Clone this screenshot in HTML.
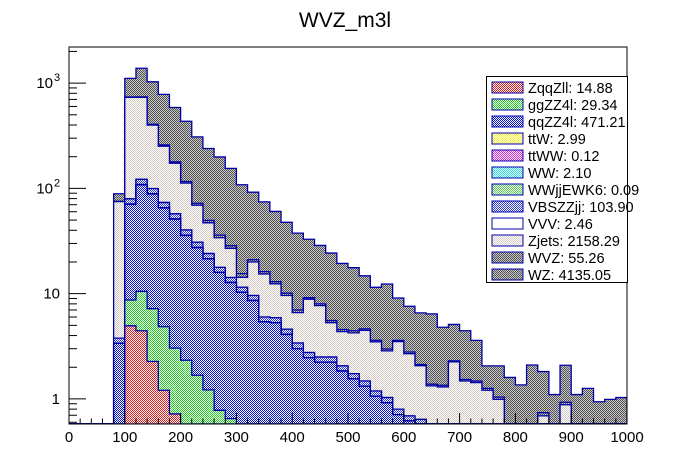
<!DOCTYPE html>
<html><head><meta charset="utf-8"><style>
html,body{margin:0;padding:0;background:#fff;}
svg{display:block;font-family:"Liberation Sans",sans-serif;}
</style></head><body>
<svg id="chart" width="696" height="472" viewBox="0 0 696 472" xmlns="http://www.w3.org/2000/svg">
<defs id="defs"></defs>
<text x="345" y="27" font-size="21" text-anchor="middle">WVZ_m3l</text>
<g id="plot"></g>
<g id="axes"></g>
<g id="legend"></g>
</svg>
<script>
// bin edges: 0..1000 in 20 GeV bins (50 bins)
const binEdges = [0,1000];
const nBins = 50;
const seriesNames = ["ZqqZll","ggZZ4l","qqZZ4l","ttW","ttWW","WW","WWjjEWK6","VBSZZjj","VVV","Zjets","WVZ","WZ"];
const legendLabels = ["ZqqZll: 14.88","ggZZ4l: 29.34","qqZZ4l: 471.21","ttW: 2.99","ttWW: 0.12","WW: 2.10","WWjjEWK6: 0.09","VBSZZjj: 103.90","VVV: 2.46","Zjets: 2158.29","WVZ: 55.26","WZ: 4135.05"];
const ZqqZll = [0,0,0,0,0,4.95,4.44,2.27,1.21,0.72,0.5,0,0,0,0,0,0,0,0,0,0,0,0,0,0,0,0,0,0,0,0,0,0,0,0,0,0,0,0,0,0,0,0,0,0,0,0,0,0,0];
const ggZZ4l = [0,0,0,0,0,3.75,6.06,4.93,3.64,2.32,1.83,1.68,1.22,0.78,0.65,0,0,0,0,0,0,0,0,0,0,0,0,0,0,0,0,0,0,0,0,0,0,0,0,0,0,0,0,0,0,0,0,0,0,0];
const qqZZ4l = [0,0,0,0,3.37,61.8,97.5,81.2,60.3,47.9,33.4,25.6,20.2,15.1,12.1,10.3,8.6,5.4,5.3,4.1,3.0,2.46,2.23,2.23,1.84,1.55,1.32,1.06,0.92,0.71,0.62,0.58,0,0,0,0,0,0,0,0,0,0,0,0,0,0,0,0,0,0];
const ttW = [0,0,0,0,0,0.3,0.4,0.3,0.2,0.2,0.1,0.1,0,0,0,0,0,0,0,0,0,0,0,0,0,0,0,0,0,0,0,0,0,0,0,0,0,0,0,0,0,0,0,0,0,0,0,0,0,0];
const ttWW = [0,0,0,0,0,0,0.01,0.01,0.01,0.01,0,0,0,0,0,0,0,0,0,0,0,0,0,0,0,0,0,0,0,0,0,0,0,0,0,0,0,0,0,0,0,0,0,0,0,0,0,0,0,0];
const WW = [0,0,0,0,0,0.2,0.3,0.2,0.2,0.1,0.1,0.1,0,0,0,0,0,0,0,0,0,0,0,0,0,0,0,0,0,0,0,0,0,0,0,0,0,0,0,0,0,0,0,0,0,0,0,0,0,0];
const WWjjEWK6 = [0,0,0,0,0,0,0.01,0.01,0.01,0.01,0.01,0,0,0,0,0,0,0,0,0,0,0,0,0,0,0,0,0,0,0,0,0,0,0,0,0,0,0,0,0,0,0,0,0,0,0,0,0,0,0];
const VBSZZjj = [0,0,0,0,0.41,8.5,13,10.6,7.8,6.1,4.3,3.3,2.6,1.9,1.5,1.2,1.0,0.6,0.6,0.5,0.4,0.3,0.27,0.27,0.22,0.19,0.16,0.13,0.11,0.09,0.07,0.06,0,0,0,0,0,0,0,0,0,0,0,0,0,0,0,0,0,0];
const VVV = [0,0,0,0,0,0.2,0.3,0.2,0.2,0.1,0.1,0.1,0.1,0,0,0,0,0,0,0,0,0,0,0,0,0,0,0,0,0,0,0,0,0,0,0,0,0,0,0,0,0,0,0,0,0,0,0,0,0];
const Zjets = [0,0,0,0,71.2,652,610,299,178,116,72,38.4,23,16.2,12.7,2.8,10.4,9.4,6.5,5.0,3.2,6.1,5.2,2.8,2.3,2.5,3.0,2.3,1.83,2.7,2.0,1.43,1.33,1.3,2.25,1.48,1.43,1.21,0.99,0,0,0,0.69,0,0.88,0,0,0,0,0];
const WVZ = [0,0,0,0,0.2,5,8,8,7,5,4,3,2.5,2,1.6,1.2,1,0.8,0.6,0.5,0.4,0.3,0.3,0.25,0.2,0.2,0.15,0.12,0.12,0.1,0.1,0.05,0.05,0.05,0.05,0.05,0.05,0.05,0.05,0.05,0.05,0.05,0.05,0.05,0.05,0.05,0.05,0.05,0.05,0.05];
const WZ = [0,0,0,0,13.8,373,644,622,523,408,318,236,189.5,163,126.4,92.8,71,58.2,47.4,37.5,30.6,23.7,20.7,18.75,14.8,13.2,10.15,7.88,9.38,5.5,4.8,4.45,5.05,3.45,2.8,2.91,2.12,0.8,1.02,1.55,1.31,2.05,1.08,1.05,1.16,1.05,1.21,0.89,0.94,0.98];
const xTickLabels = ["0","100","200","300","400","500","600","700","800","900","1000"];
const yDecades = [0,1,2,3];
const yRange = [0.578, 2203];

const seriesData = [ZqqZll,ggZZ4l,qqZZ4l,ttW,ttWW,WW,WWjjEWK6,VBSZZjj,VVV,Zjets,WVZ,WZ];
const colA = ["#e01818","#20d020","#0010d8","#f0f020","#e020e0","#20e0e0","#50c850","#2838d8","#ffffff","#d4ccc4","#505050","#505050"];
const colB = ["#ffffff","#ffffff","#ffffff","#ffffff","#ffffff","#ffffff","#ffffff","#ffffff","#ffffff","#ffffff","#c8c8c8","#c8c8c8"];

const L=69,R=627,T=47,B=424;
const NS="http://www.w3.org/2000/svg";
function X(v){return L+(v-binEdges[0])/(binEdges[1]-binEdges[0])*(R-L);}
function Y(v){const lv=Math.log10(Math.max(v,yRange[0]));return B-(lv-Math.log10(yRange[0]))/(Math.log10(yRange[1])-Math.log10(yRange[0]))*(B-T);}
function mk(tag,attrs,parent){const e=document.createElementNS(NS,tag);for(const k in attrs)e.setAttribute(k,attrs[k]);parent.appendChild(e);return e;}

const defs=document.getElementById('defs');
seriesNames.forEach((n,i)=>{
  const p=mk('pattern',{id:'pat'+i,width:2,height:2,patternUnits:'userSpaceOnUse'},defs);
  mk('rect',{x:0,y:0,width:2,height:2,fill:colB[i]},p);
  mk('rect',{x:0,y:0,width:1,height:1,fill:colA[i]},p);
  mk('rect',{x:1,y:1,width:1,height:1,fill:colA[i]},p);
});
const cp=mk('clipPath',{id:'clip'},defs);
mk('rect',{x:L,y:T,width:R-L,height:B-T},cp);

const cum=[];let run=new Array(nBins).fill(0);
seriesData.forEach(s=>{run=run.map((v,k)=>v+s[k]);cum.push(run.slice());});
const bw=(binEdges[1]-binEdges[0])/nBins;
const plot=document.getElementById('plot');
plot.setAttribute('clip-path','url(#clip)');
for(let i=seriesData.length-1;i>=0;i--){
  const c=cum[i];
  let d='M'+X(binEdges[0])+','+B;
  for(let k=0;k<nBins;k++){const y=Y(c[k]);d+=' L'+X(binEdges[0]+k*bw)+','+y+' L'+X(binEdges[0]+(k+1)*bw)+','+y;}
  d+=' L'+X(binEdges[1])+','+B+' Z';
  const p=mk('path',{d:d,fill:'url(#pat'+i+')',stroke:'#0000a8','stroke-width':1.3},plot);
  
  
}

const ax=document.getElementById('axes');
mk('rect',{x:L,y:T,width:R-L,height:B-T,fill:'none',stroke:'#000','stroke-width':1},ax);
for(let v=0;v<=1000;v+=20){
  const major=v%100===0;const x=X(v);
  mk('line',{x1:x,y1:B,x2:x,y2:B-(major?11:5.5),stroke:'#000','stroke-width':1},ax);
}
xTickLabels.forEach(t=>{
  const tx=mk('text',{x:X(+t),y:442,'font-size':15,'text-anchor':'middle'},ax);
  tx.textContent=t;
  
  
});
for(let dcd=-1;dcd<=3;dcd++){
  for(let m=1;m<=9;m++){
    const v=m*Math.pow(10,dcd);
    if(v<yRange[0]||v>yRange[1])continue;
    const y=Y(v);
    mk('line',{x1:L,y1:y,x2:L+(m===1?17:8),y2:y,stroke:'#000','stroke-width':1},ax);
  }
}
yDecades.forEach(dcd=>{
  const y=Y(Math.pow(10,dcd));
  const tx=mk('text',{x:60,y:y+5,'font-size':15,'text-anchor':'end'},ax);
  
  
  if(dcd===0)tx.textContent='1';
  else if(dcd===1)tx.textContent='10';
  else{tx.setAttribute('x',53);tx.textContent='10';const s=mk('text',{x:54,y:y-2,'font-size':11},ax);s.textContent=String(dcd);}
});

const lg=document.getElementById('legend');
mk('rect',{x:486.5,y:76.5,width:141,height:206,fill:'#fff',stroke:'#000','stroke-width':1},lg);
legendLabels.forEach((t,i)=>{
  const y=80+i*17;
  const g=mk('g',{},lg);
  
  
  mk('rect',{x:492,y:y+2,width:31,height:11,fill:'url(#pat'+i+')',stroke:'#0000a8','stroke-width':1},g);
  const tx=mk('text',{x:528,y:y+13,'font-size':14.5},g);
  tx.textContent=t;
});
</script>
</body></html>
